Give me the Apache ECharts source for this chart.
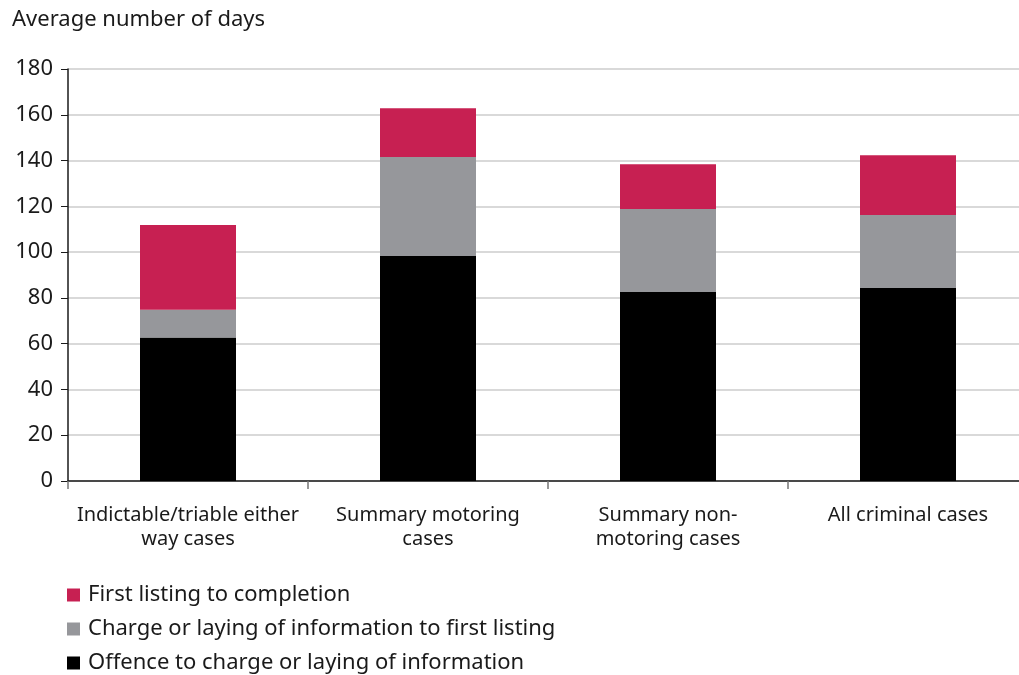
<!DOCTYPE html>
<html>
<head>
<meta charset="utf-8">
<script src="https://cdn.jsdelivr.net/npm/echarts@6/dist/echarts.min.js"></script>
<style>
  html, body { margin: 0; padding: 0; background: #fff; overflow: hidden; }
  /* the plot runs a little past the right edge of the page */
  #chart { width: 1030px; height: 700px; }
</style>
</head>
<body>
<div id="chart"></div>
<script>
// Average number of days from offence to completion, by stage and case type
const categories = [
  'Indictable/triable either\nway cases',
  'Summary motoring\ncases',
  'Summary non-\nmotoring cases',
  'All criminal cases'
];
const offenceToCharge = [62.7, 98.3, 82.6, 84.3];
const chargeToFirstListing = [12.1, 43.2, 36.2, 31.9];
const firstListingToCompletion = [37.0, 21.3, 19.6, 26.1];
const yTicks = { min: 0, max: 180, interval: 20 };

const FONT = '"Noto Sans", "Open Sans", sans-serif';
const COLORS = { red: '#c72052', grey: '#96979b', black: '#000000' };

const chart = echarts.init(document.getElementById('chart'), null, { renderer: 'canvas' });

const barBase = {
  type: 'bar',
  stack: 'days',
  barWidth: '40%',
  animation: false,
  emphasis: { disabled: true }
};

chart.setOption({
  animation: false,
  title: {
    text: 'Average number of days',
    left: 12,
    top: 9,
    padding: 0,
    textStyle: { fontFamily: FONT, fontSize: 22, fontWeight: 'normal', color: '#1a1a1a' }
  },
  grid: { left: 68, right: 2, top: 69, height: 412, containLabel: false },
  legend: {
    orient: 'vertical',
    left: 67,
    top: 582,
    padding: 0,
    itemWidth: 13,
    itemHeight: 13,
    itemGap: 8,
    icon: 'rect',
    data: ['First listing to completion', 'Charge or laying of information to first listing', 'Offence to charge or laying of information'],
    textStyle: { fontFamily: FONT, fontSize: 22, color: '#1a1a1a', lineHeight: 26, padding: [0, 0, 0, 3] }
  },
  xAxis: {
    type: 'category',
    data: categories,
    axisLine: { show: true, lineStyle: { color: '#1a1a1a', width: 1.5 } },
    axisTick: { show: true, length: 8, alignWithLabel: false, lineStyle: { color: '#777', width: 1.5 } },
    axisLabel: {
      fontFamily: FONT,
      fontSize: 20,
      lineHeight: 24,
      color: '#1a1a1a',
      margin: 22,
      interval: 0
    },
    splitLine: { show: false }
  },
  yAxis: {
    type: 'value',
    min: yTicks.min,
    max: yTicks.max,
    interval: yTicks.interval,
    axisLine: { show: true, lineStyle: { color: '#1a1a1a', width: 1.5 } },
    axisTick: { show: true, length: 7, lineStyle: { color: '#1a1a1a', width: 1 } },
    axisLabel: { fontFamily: FONT, fontSize: 22, color: '#1a1a1a', margin: 15 },
    splitLine: { show: true, lineStyle: { color: '#cccccc', width: 1.5 } }
  },
  series: [
    Object.assign({}, barBase, {
      name: 'Offence to charge or laying of information',
      data: offenceToCharge,
      itemStyle: { color: COLORS.black }
    }),
    Object.assign({}, barBase, {
      name: 'Charge or laying of information to first listing',
      data: chargeToFirstListing,
      itemStyle: { color: COLORS.grey }
    }),
    Object.assign({}, barBase, {
      name: 'First listing to completion',
      data: firstListingToCompletion,
      itemStyle: { color: COLORS.red }
    })
  ]
});
</script>
</body>
</html>
